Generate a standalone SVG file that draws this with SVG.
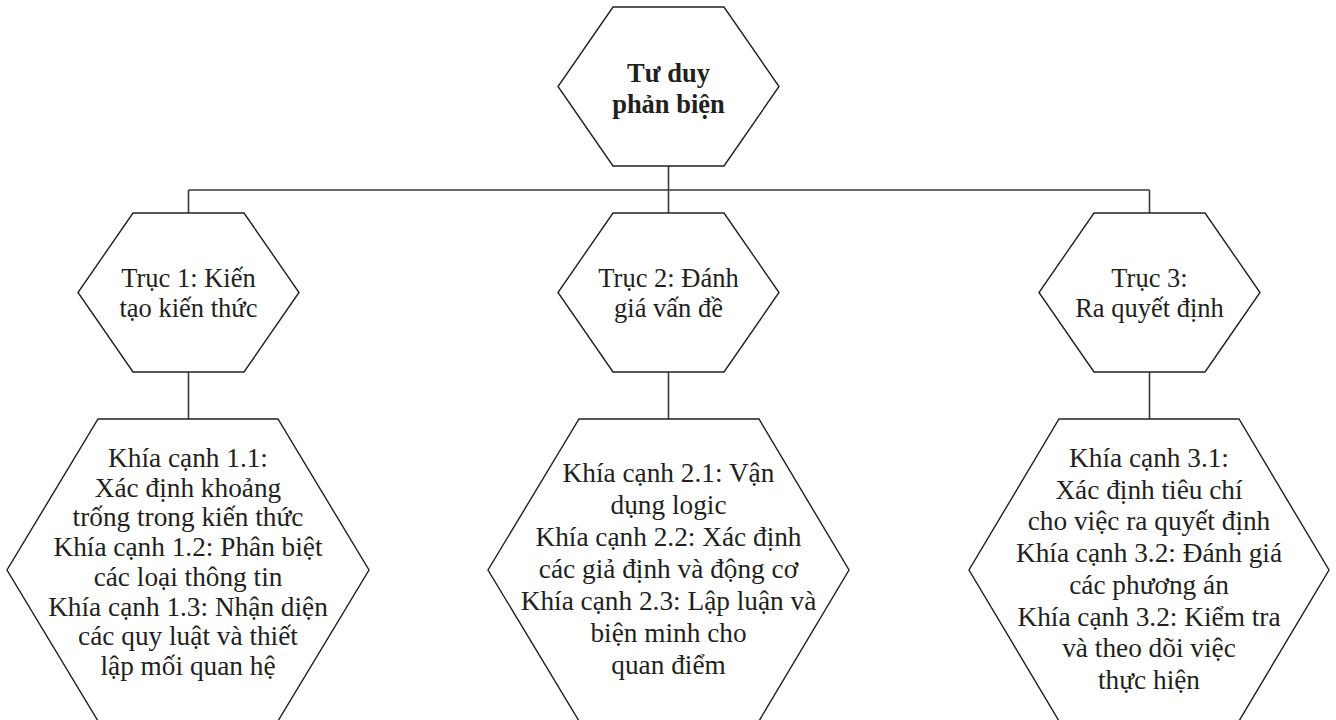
<svg xmlns="http://www.w3.org/2000/svg" width="1336" height="720" viewBox="0 0 1336 720">
<style>
.hex{fill:#fff;stroke:#231f20;stroke-width:1.4}
.conn{fill:none;stroke:#3a3a3a;stroke-width:1.6}
text{font-family:"Liberation Serif","Times New Roman",serif;font-size:26.5px;fill:#231f20;text-anchor:middle}
.b{font-weight:bold}
.s{font-size:27.3px}
</style>
<rect width="1336" height="720" fill="#fff"/>
<g id="connectors">
<path class="conn" d="M668.5 166V190M188.5 190H1149.5M188.5 190V213M668.5 190V213M1149.5 190V213M188.5 372V419M668.5 372V419M1149.5 372V419"/>
</g>
<g id="root">
<polygon class="hex" points="613,7 724,7 779,86.5 724,166 613,166 558,86.5"/>
<text class="b" x="668.5" y="82">Tư duy</text>
<text class="b" x="668.5" y="113">phản biện</text>
</g>
<g id="axis1">
<polygon class="hex" points="133,213 244,213 299,292.5 244,372 133,372 78,292.5"/>
<text x="188.5" y="287">Trục 1: Kiến</text>
<text x="188.5" y="317">tạo kiến thức</text>
</g>
<g id="axis2">
<polygon class="hex" points="613,213 724,213 779,292.5 724,372 613,372 558,292.5"/>
<text x="668.5" y="287">Trục 2: Đánh</text>
<text x="668.5" y="317">giá vấn đề</text>
</g>
<g id="axis3">
<polygon class="hex" points="1094,213 1205,213 1260,292.5 1205,372 1094,372 1039,292.5"/>
<text x="1149.5" y="287">Trục 3:</text>
<text x="1149.5" y="317">Ra quyết định</text>
</g>
<g id="aspects1" class="s">
<polygon class="hex" points="98,419 278,419 369,570 278,721 98,721 7,570"/>
<text class="s" x="188" y="467">Khía cạnh 1.1:</text>
<text class="s" x="188" y="496.7">Xác định khoảng</text>
<text class="s" x="188" y="526.4">trống trong kiến thức</text>
<text class="s" x="188" y="556.1">Khía cạnh 1.2: Phân biệt</text>
<text class="s" x="188" y="585.8">các loại thông tin</text>
<text class="s" x="188" y="615.5">Khía cạnh 1.3: Nhận diện</text>
<text class="s" x="188" y="645.2">các quy luật và thiết</text>
<text class="s" x="188" y="674.9">lập mối quan hệ</text>
</g>
<g id="aspects2">
<polygon class="hex" points="579,419 759,419 849,570 759,721 579,721 488,570"/>
<text class="s" x="668.5" y="482">Khía cạnh 2.1: Vận</text>
<text class="s" x="668.5" y="514">dụng logic</text>
<text class="s" x="668.5" y="546">Khía cạnh 2.2: Xác định</text>
<text class="s" x="668.5" y="578">các giả định và động cơ</text>
<text class="s" x="668.5" y="610">Khía cạnh 2.3: Lập luận và</text>
<text class="s" x="668.5" y="642">biện minh cho</text>
<text class="s" x="668.5" y="674">quan điểm</text>
</g>
<g id="aspects3">
<polygon class="hex" points="1059,419 1239,419 1329,570 1239,721 1059,721 969,570"/>
<text class="s" x="1149" y="467">Khía cạnh 3.1:</text>
<text class="s" x="1149" y="498.7">Xác định tiêu chí</text>
<text class="s" x="1149" y="530.4">cho việc ra quyết định</text>
<text class="s" x="1149" y="562.1">Khía cạnh 3.2: Đánh giá</text>
<text class="s" x="1149" y="593.8">các phương án</text>
<text class="s" x="1149" y="625.5">Khía cạnh 3.2: Kiểm tra</text>
<text class="s" x="1149" y="657.2">và theo dõi việc</text>
<text class="s" x="1149" y="688.9">thực hiện</text>
</g>
</svg>
